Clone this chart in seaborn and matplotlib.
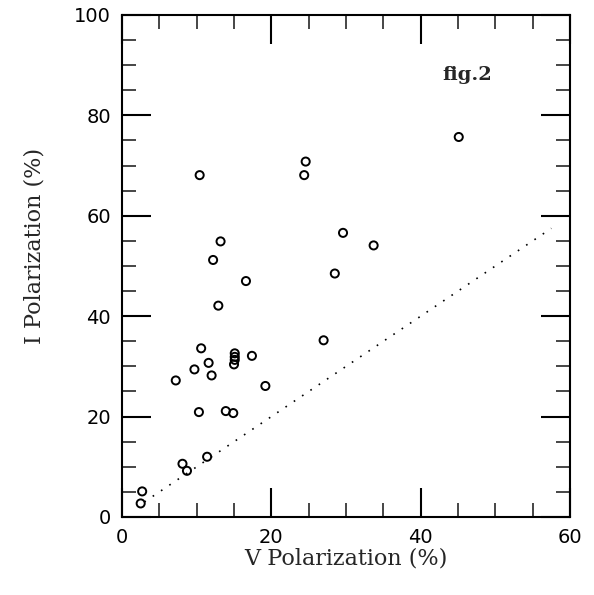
import matplotlib
matplotlib.use("Agg")
import matplotlib.pyplot as plt
import seaborn as sns
import pandas as pd
from matplotlib.ticker import MultipleLocator

# V and I polarization (%)
v_pol = [45.1, 24.6, 24.4, 10.4, 29.6, 33.7, 13.2, 12.2, 28.5, 16.6,
         12.9, 27.0, 10.6, 15.1, 15.1, 15.1, 15.0, 17.4, 11.6, 9.7,
         12.0, 7.2, 19.2, 10.3, 13.9, 14.9, 11.4, 8.1, 8.7, 2.7, 2.5]
i_pol = [75.7, 70.8, 68.1, 68.1, 56.6, 54.1, 54.9, 51.2, 48.5, 47.0,
         42.1, 35.2, 33.6, 32.6, 31.9, 31.3, 30.4, 32.1, 30.7, 29.4,
         28.2, 27.2, 26.1, 20.9, 21.1, 20.7, 12.0, 10.6, 9.2, 5.1, 2.7]

# equality line (I = V)
line_x = [3.0, 57.5]
line_y = [3.0, 57.5]

df = pd.DataFrame({"V": v_pol, "I": i_pol})
line_df = pd.DataFrame({"x": line_x, "y": line_y})

sns.set_style("white")
plt.rcParams["font.family"] = ["DejaVu Serif", "DejaVu Sans"]

fig = plt.figure(figsize=(5.94, 5.95), dpi=100)
ax = fig.add_axes([0.2054, 0.1311, 0.7542, 0.8437])

sns.scatterplot(data=df, x="V", y="I", ax=ax, marker="o", s=34,
                facecolor="none", edgecolor="black", linewidth=1.4)
sns.lineplot(data=line_df, x="x", y="y", ax=ax, color="black",
             linewidth=1.2, linestyle=(0, (1, 5)))

ax.set_xlim(0, 60)
ax.set_ylim(0, 100)
ax.xaxis.set_major_locator(MultipleLocator(20))
ax.xaxis.set_minor_locator(MultipleLocator(5))
ax.yaxis.set_major_locator(MultipleLocator(20))
ax.yaxis.set_minor_locator(MultipleLocator(5))
ax.tick_params(which="major", direction="in", length=21, width=1.5,
               bottom=True, left=True, top=True, right=True,
               labelsize=14, pad=8, colors="black")
ax.tick_params(which="minor", direction="in", length=10, width=1.2,
               bottom=True, left=True, top=True, right=True)
for lab in ax.get_xticklabels() + ax.get_yticklabels():
    lab.set_family("DejaVu Sans")
for s in ax.spines.values():
    s.set_linewidth(1.5)
    s.set_color("black")

ax.set_xlabel("V Polarization (%)", fontsize=16, labelpad=0)
ax.set_ylabel("I Polarization (%)", fontsize=16)
ax.yaxis.set_label_coords(-0.17, 0.54)

ax.text(46.2, 88, "fig.2", fontsize=14, fontweight="bold",
        ha="center", va="center")

fig.savefig("out.png", dpi=100)
